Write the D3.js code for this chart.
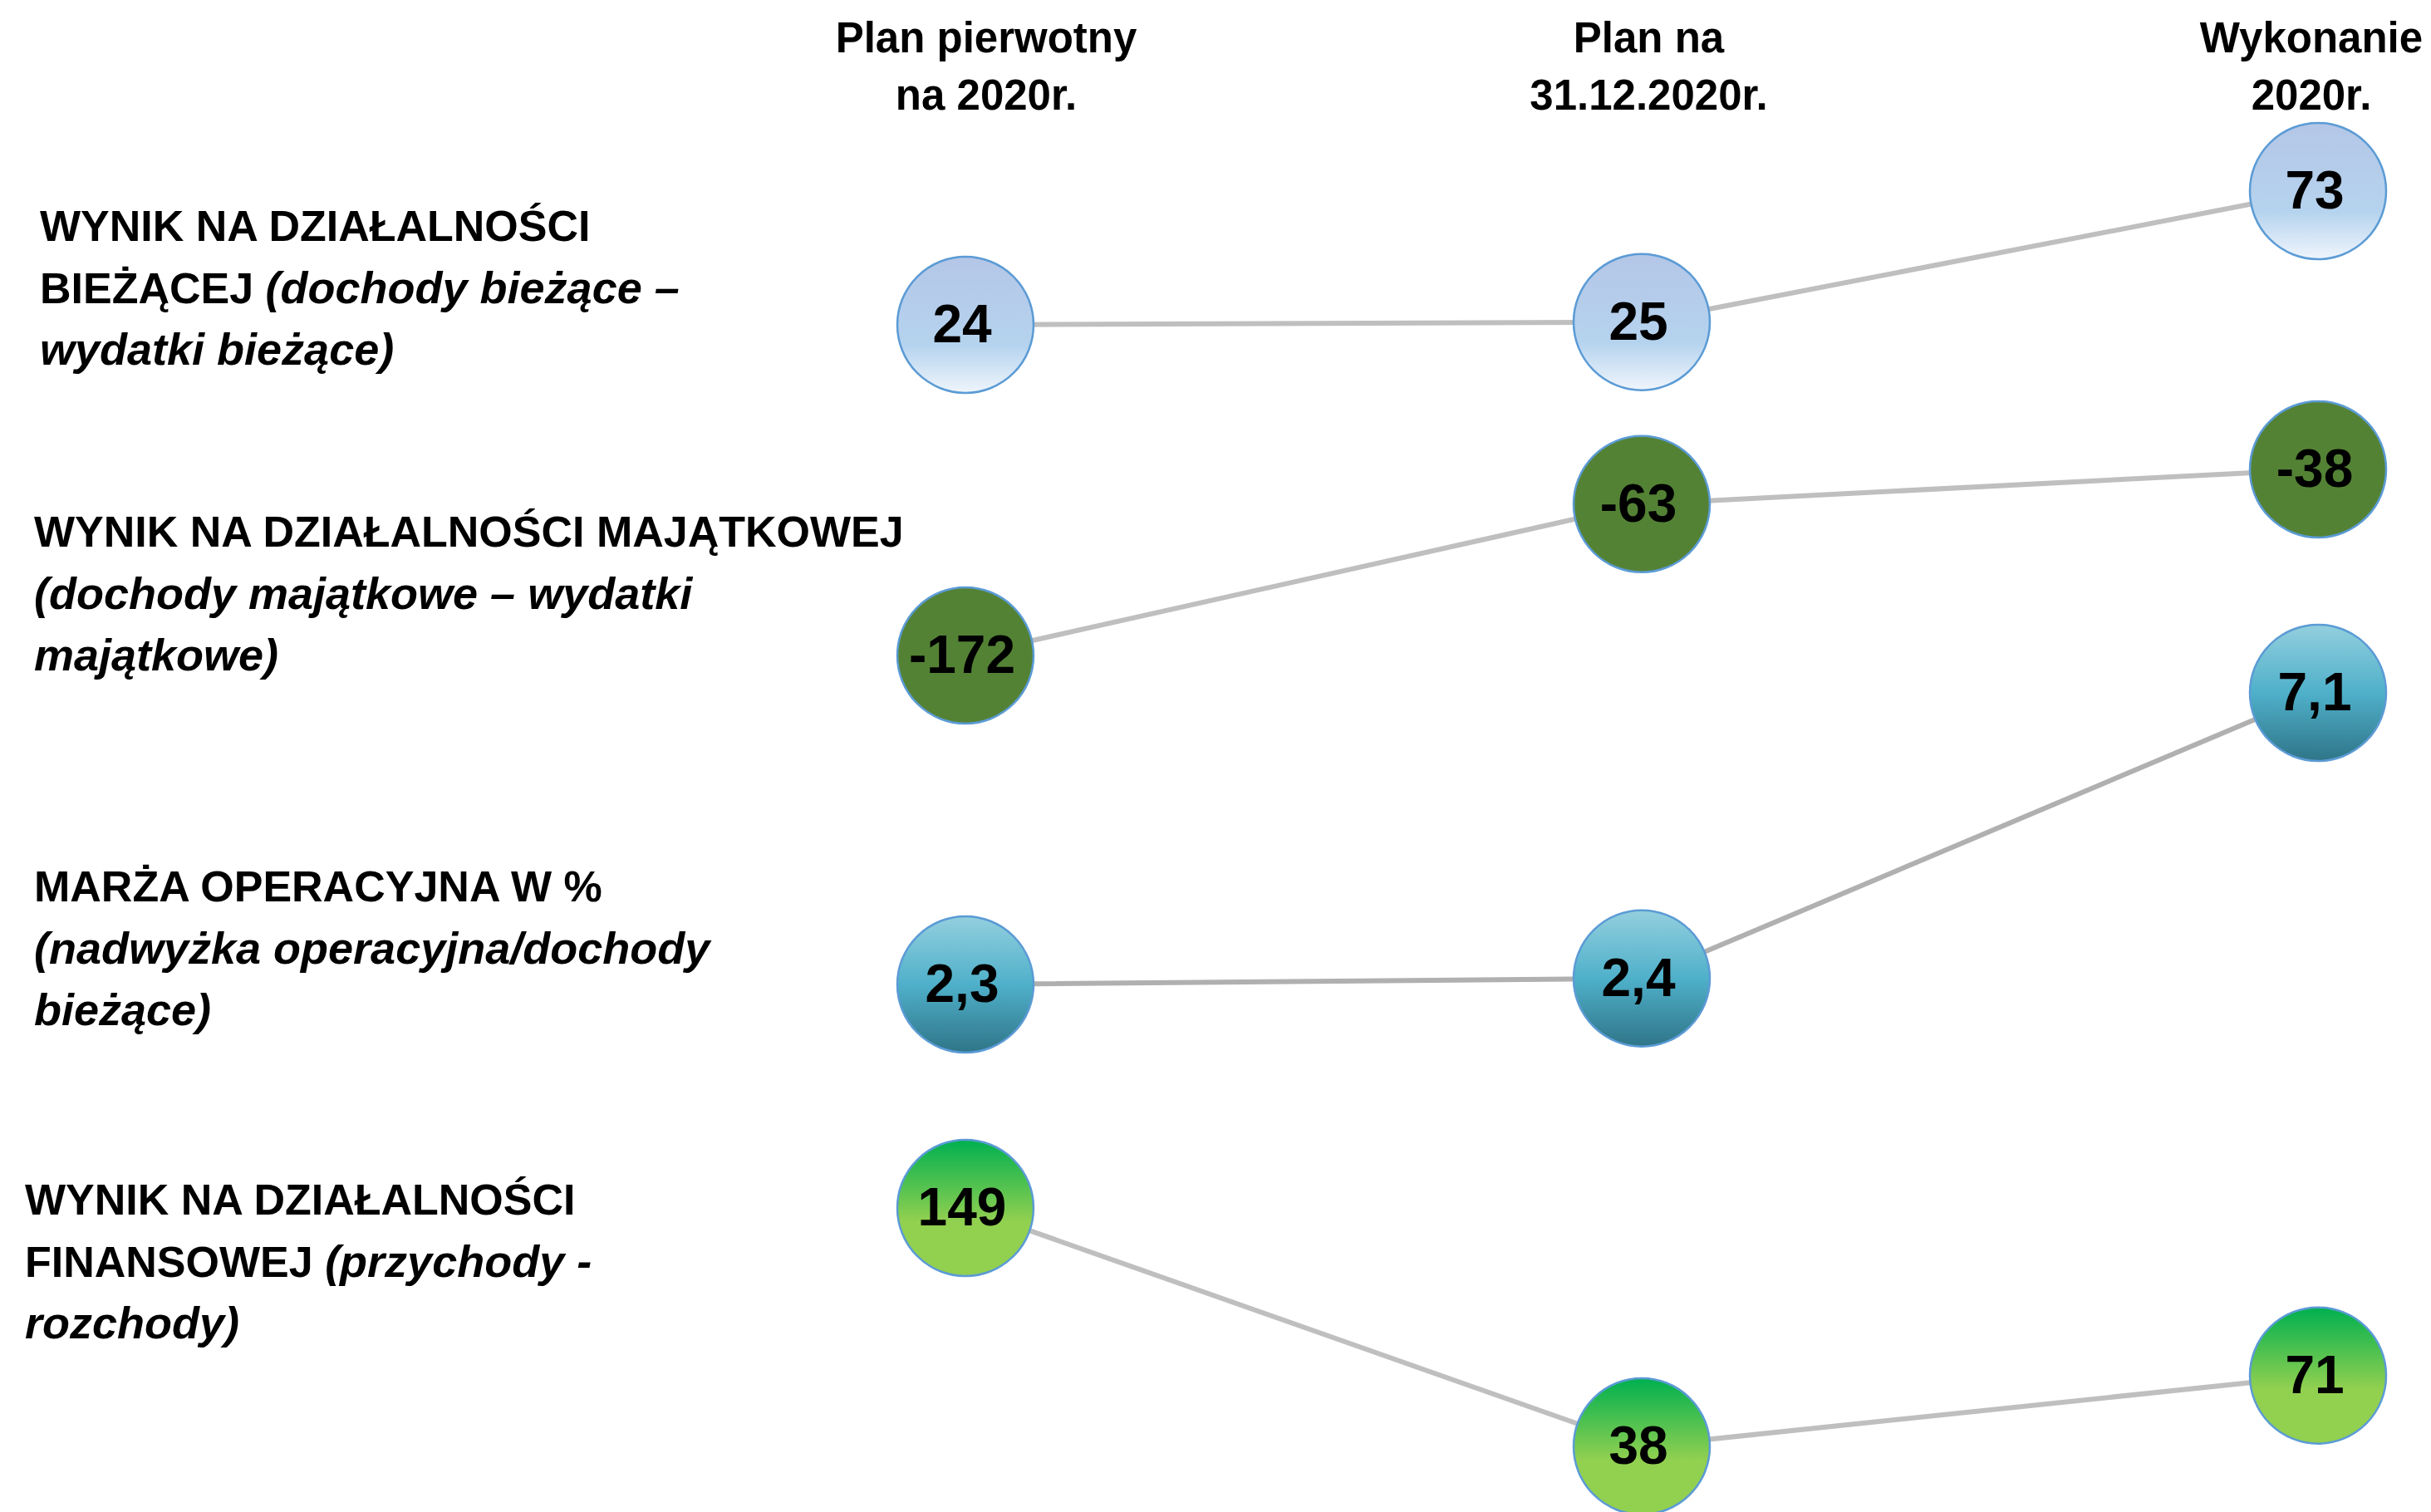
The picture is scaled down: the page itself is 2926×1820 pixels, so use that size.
<!DOCTYPE html>
<html>
<head>
<meta charset="utf-8">
<script src="https://cdn.jsdelivr.net/npm/d3@7"></script>
<style>
  body { margin: 0; background: #fff; }
  text { font-family: "Liberation Sans", Arial, sans-serif; font-weight: bold; }
</style>
</head>
<body>
<div id="root"></div>
<script>
// columns (headers, two lines each)
var columns = ["plan", "planKoniec", "wykonanie"];
var columnLabels = [["Plan pierwotny", "na 2020r."], ["Plan na", "31.12.2020r."], ["Wykonanie", "2020r."]];

// rows: values per column
var rows = ["biezaca", "majatkowa", "marza", "finansowa"];
var valuesBiezaca = [24, 25, 73];
var valuesMajatkowa = [-172, -63, -38];
var valuesMarza = [2.3, 2.4, 7.1];
var valuesFinansowa = [149, 38, 71];

// row labels: [upright part, italic part] per line
var labelsBiezaca = [["WYNIK NA DZIAŁALNOŚCI", ""], ["BIEŻĄCEJ ", "(dochody bieżące –"], ["", "wydatki bieżące)"]];
var labelsMajatkowa = [["WYNIK NA DZIAŁALNOŚCI MAJĄTKOWEJ", ""], ["", "(dochody majątkowe – wydatki"], ["", "majątkowe)"]];
var labelsMarza = [["MARŻA OPERACYJNA W %", ""], ["", "(nadwyżka operacyjna/dochody"], ["", "bieżące)"]];
var labelsFinansowa = [["WYNIK NA DZIAŁALNOŚCI", ""], ["FINANSOWEJ ", "(przychody -"], ["", "rozchody)"]];

var w = 2926, h = 1820;
var r = 82;

// layout of each row: y of the row's max value, y of its min value, label top baseline, label x
var layout = [
  { yTop: 230, yBottom: 391, labelY: 290, labelX: 48, fill: "gBlue", line: "#bfbfbf" },
  { yTop: 565, yBottom: 789, labelY: 658, labelX: 41, fill: "#548235", line: "#bfbfbf" },
  { yTop: 834, yBottom: 1185, labelY: 1085, labelX: 41, fill: "gTeal", line: "#b0b0b0" },
  { yTop: 1454, yBottom: 1741, labelY: 1462, labelX: 30, fill: "gGreen", line: "#bfbfbf" }
];

var allValues = [valuesBiezaca, valuesMajatkowa, valuesMarza, valuesFinansowa];
var allLabels = [labelsBiezaca, labelsMajatkowa, labelsMarza, labelsFinansowa];

var fmt = function(v) { return String(v).replace(".", ","); };

var xScale = d3.scalePoint().domain(columns).range([1162, 2790]);
var headerX = d3.scalePoint().domain(columns).range([1187, 2782]);

var svg = d3.select("#root").append("svg").attr("width", w).attr("height", h);
svg.append("rect").attr("width", w).attr("height", h).attr("fill", "white");

// gradients
var defs = svg.append("defs");
function grad(id, stops) {
  var g = defs.append("linearGradient").attr("id", id).attr("x1", 0).attr("y1", 0).attr("x2", 0).attr("y2", 1);
  stops.forEach(function(s) { g.append("stop").attr("offset", s[0]).attr("stop-color", s[1]); });
}
grad("gBlue", [["0%", "#b4c6e7"], ["65%", "#b5d3ee"], ["100%", "#eff5fc"]]);
grad("gTeal", [["0%", "#93cfde"], ["50%", "#4fb0ca"], ["100%", "#2f7588"]]);
grad("gGreen", [["0%", "#00b050"], ["60%", "#92d050"], ["100%", "#92d050"]]);

// column headers
columnLabels.forEach(function(lines, i) {
  var t = svg.append("text").attr("text-anchor", "middle").style("font-size", "51px");
  lines.forEach(function(l, j) {
    t.append("tspan").attr("x", headerX(columns[i])).attr("y", 63 + j * 69).text(l);
  });
});

rows.forEach(function(rowName, ri) {
  var vals = allValues[ri];
  var lay = layout[ri];
  var yScale = d3.scaleLinear().domain(d3.extent(vals)).range([lay.yBottom, lay.yTop]);
  var pts = vals.map(function(v, ci) { return { v: v, x: xScale(columns[ci]), y: yScale(v) }; });

  // row label
  allLabels[ri].forEach(function(parts, li) {
    var t = svg.append("text").attr("x", lay.labelX).attr("y", lay.labelY + li * 74.5).style("font-size", "52px");
    if (parts[0]) t.append("tspan").text(parts[0]);
    if (parts[1]) t.append("tspan").style("font-style", "italic").style("font-size", "54px").text(parts[1]);
  });

  // connecting line
  var line = d3.line().x(function(d) { return d.x; }).y(function(d) { return d.y; });
  svg.append("path").datum(pts).attr("d", line).attr("fill", "none")
    .attr("stroke", lay.line).attr("stroke-width", 6);

  // circles
  var g = svg.selectAll(".pt" + ri).data(pts).enter().append("g").attr("class", "pt" + ri);
  g.append("circle").attr("cx", function(d) { return d.x; }).attr("cy", function(d) { return d.y; })
    .attr("r", r)
    .attr("fill", lay.fill.charAt(0) === "#" ? lay.fill : "url(#" + lay.fill + ")")
    .attr("stroke", "#5b9bd5").attr("stroke-width", 2.5);
  g.append("text").attr("x", function(d) { return d.x - 4; }).attr("y", function(d) { return d.y + 21; })
    .attr("text-anchor", "middle").style("font-size", "64px").attr("fill", "#000")
    .text(function(d) { return fmt(d.v); });
});
</script>
</body>
</html>
